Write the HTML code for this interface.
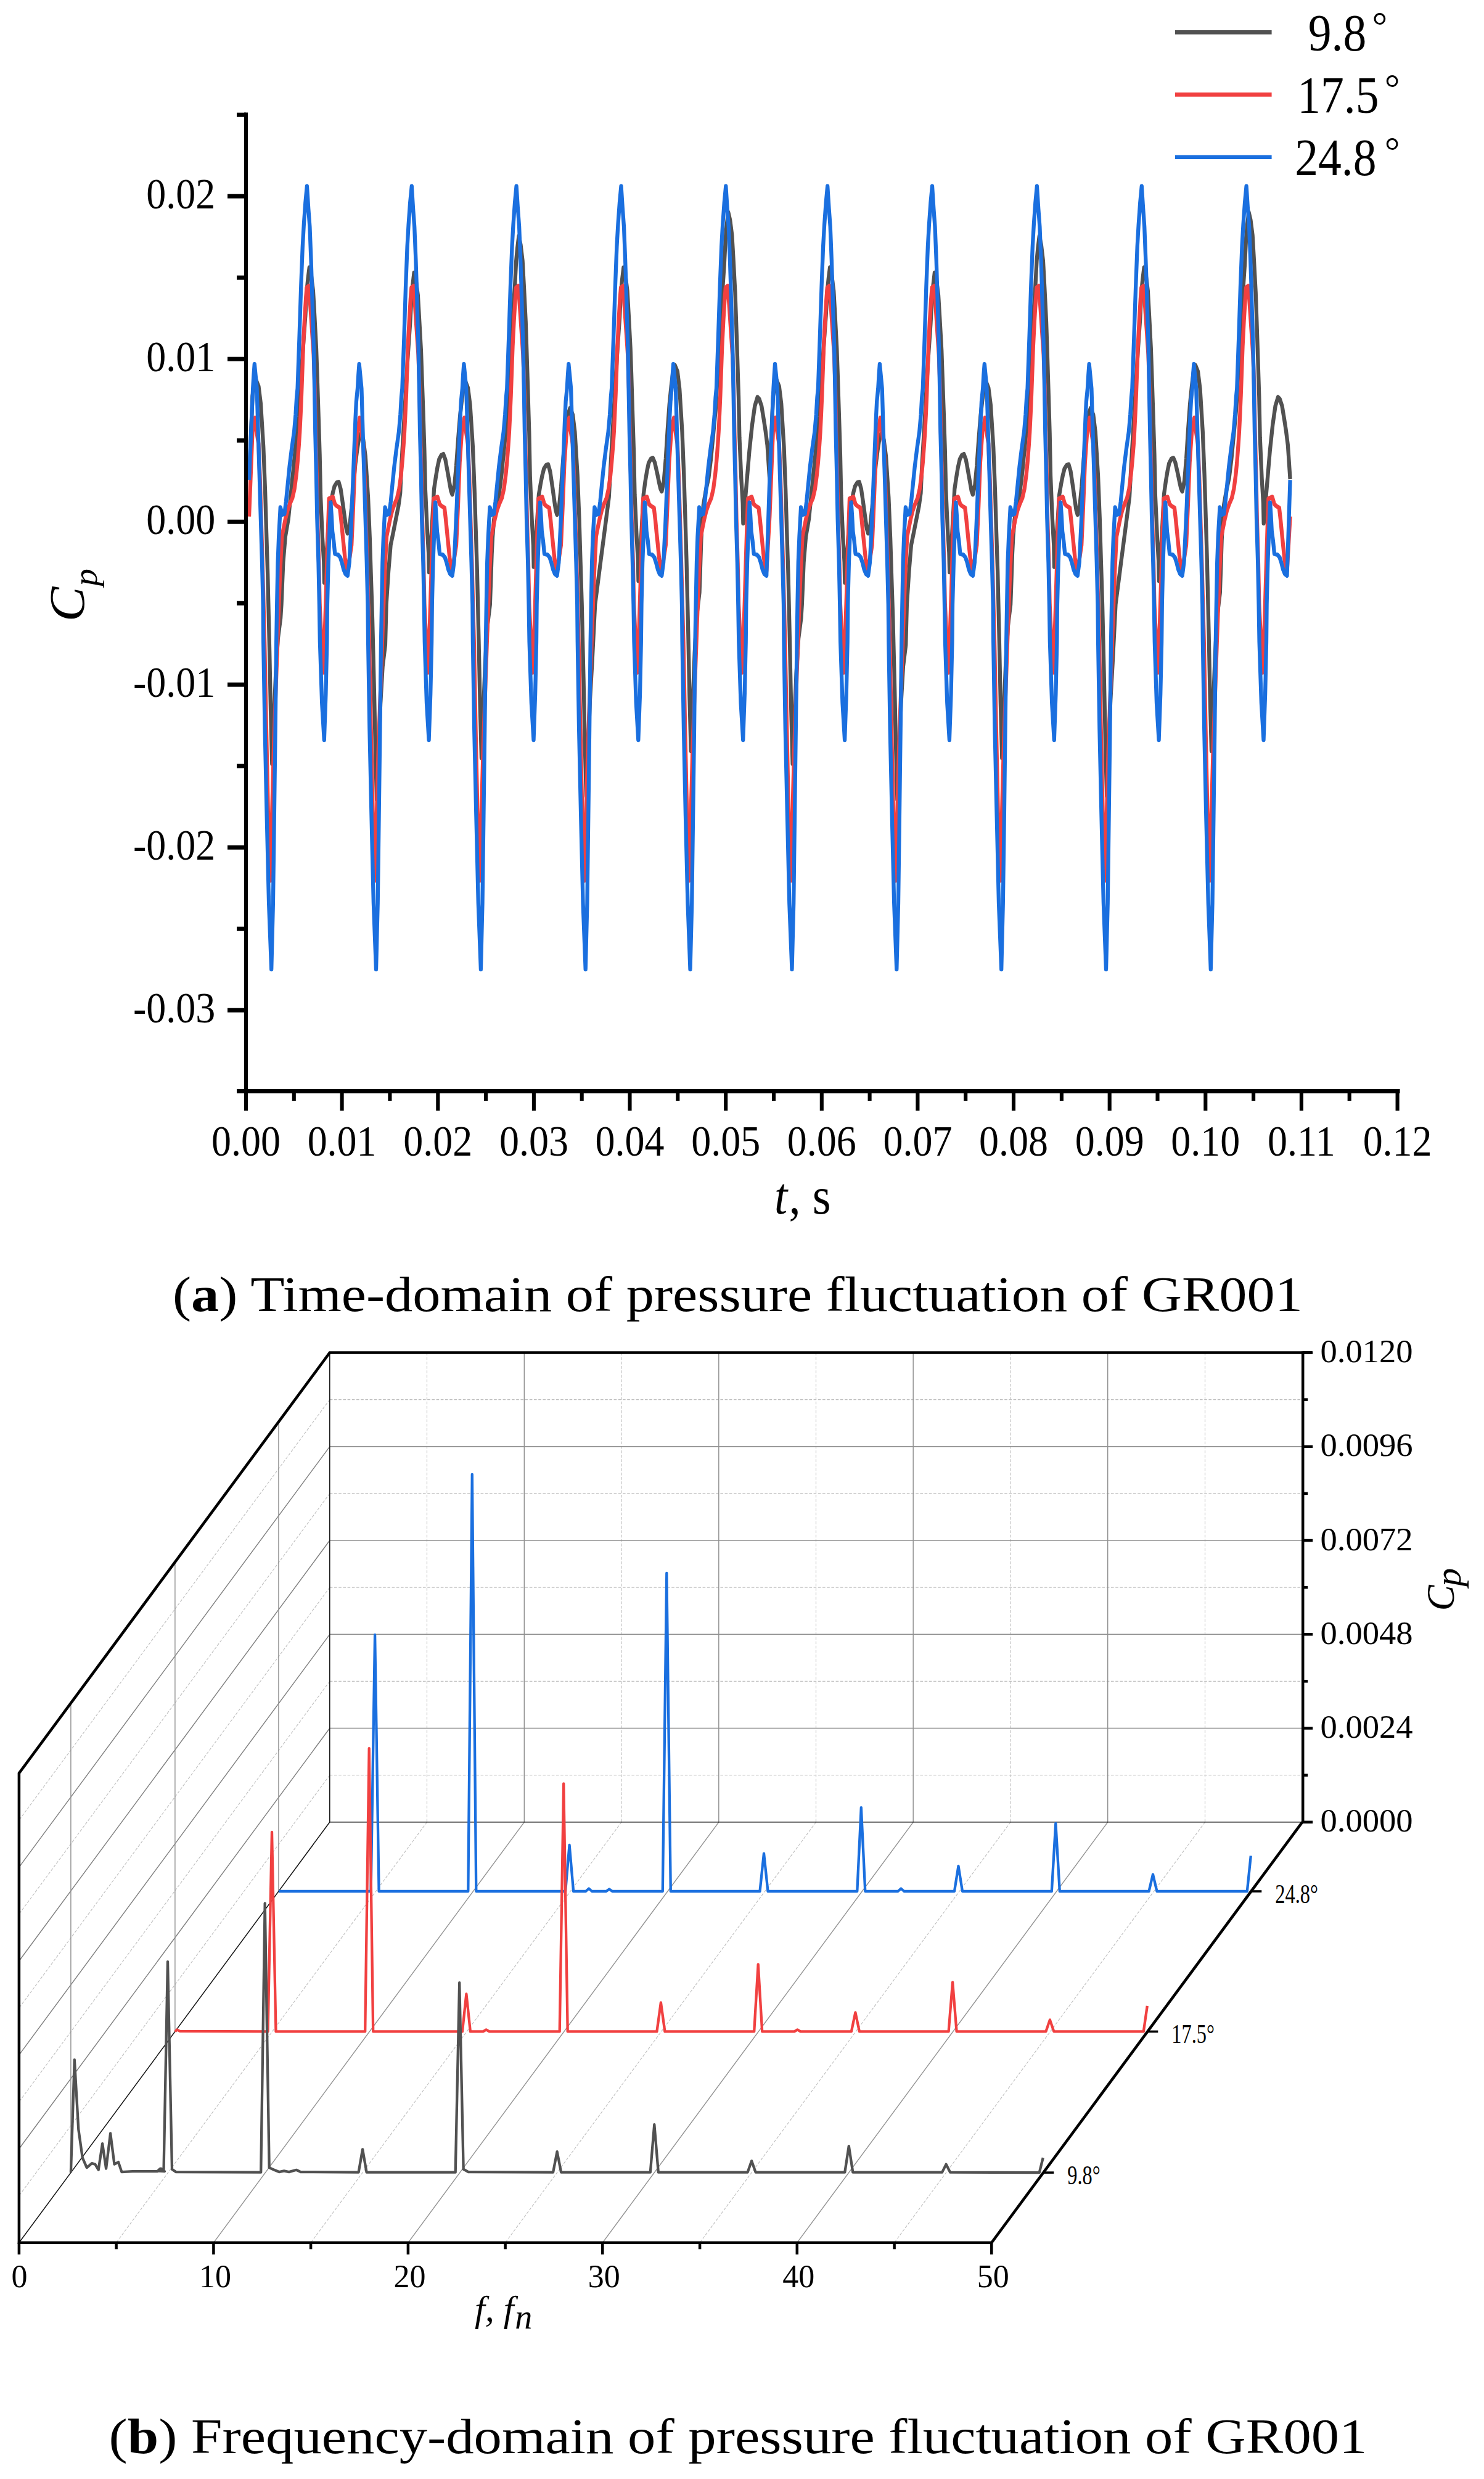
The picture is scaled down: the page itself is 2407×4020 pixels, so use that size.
<!DOCTYPE html>
<html lang="en"><head><meta charset="utf-8"><title>Pressure fluctuation of GR001</title>
<style>html,body{margin:0;padding:0;background:#fff}svg{display:block}</style></head>
<body>
<svg width="2407" height="4020" viewBox="0 0 2407 4020">
<rect width="2407" height="4020" fill="#fff"/>
<g id="chart-a">
<g transform="scale(1,1.1)" fill="none" stroke-width="6.3" stroke-linejoin="round" stroke-linecap="butt">
<polyline points="404.0,706.4 409.5,584.0 412.5,567.0 415.2,560.0 419.4,569.4 422.9,594.9 427.2,658.2 430.0,721.9 432.1,785.1 434.2,846.3 437.0,954.2 439.0,1044.2 441.3,1126.1 444.3,1057.9 447.3,993.2 450.8,941.4 455.1,911.2 456.5,890.9 459.3,829.1 462.8,790.9 467.7,765.2 473.4,713.6 479.0,662.7 484.6,614.4 487.9,564.4 491.3,515.2 495.3,465.6 497.5,428.9 499.5,410.8 501.8,394.4 504.8,406.4 507.9,428.9 510.2,465.6 513.0,514.3 514.4,550.6 516.5,609.2 518.6,670.2 520.0,730.9 522.9,791.9 525.3,828.4 526.0,858.9 528.9,827.4 531.8,788.1 534.2,754.4 537.0,739.3 539.8,726.5 542.6,716.7 546.2,711.5 549.3,710.5 552.5,720.7 554.6,733.7 556.7,747.0 559.6,766.7 561.7,779.8 563.8,786.4 567.3,773.8 570.3,748.3 573.3,714.2 576.3,684.4 579.3,663.1 582.3,646.1 585.0,639.1 589.2,648.1 592.7,672.4 597.0,732.7 599.8,793.4 601.9,853.7 604.0,912.0 606.8,1014.9 608.8,1100.7 611.1,1178.7 614.1,1106.4 617.1,1037.7 620.6,982.7 624.9,950.7 626.6,890.9 630.1,842.2 633.6,803.6 637.9,784.5 642.1,765.2 646.3,745.9 649.2,726.7 651.0,688.3 654.4,635.6 657.8,582.5 661.1,530.3 665.1,477.6 667.4,438.7 669.4,419.5 671.6,402.1 674.6,413.6 677.8,434.9 680.0,469.7 682.9,516.1 684.2,550.5 686.4,606.3 688.4,664.2 689.9,721.9 692.8,779.9 695.1,814.6 695.9,843.5 698.8,806.6 701.6,760.6 704.0,721.0 706.9,703.3 709.6,688.4 712.4,676.9 716.0,670.8 719.1,669.5 722.4,677.6 724.4,687.8 726.5,698.2 729.4,713.6 731.5,723.9 733.6,729.1 737.1,714.9 740.1,686.0 743.1,647.5 746.1,613.7 749.1,589.6 752.1,570.4 754.9,562.5 759.0,571.7 762.5,596.7 766.9,658.7 769.6,721.1 771.8,783.1 773.9,843.0 776.6,948.9 778.6,1037.0 781.0,1117.3 784.0,1045.6 787.0,977.6 790.5,923.2 794.8,891.4 796.2,855.6 797.6,817.1 799.0,791.7 801.2,766.0 805.0,746.3 809.6,727.6 813.2,701.9 816.0,676.5 818.8,650.8 820.9,631.6 824.3,579.5 827.6,526.9 831.0,475.2 835.0,423.0 837.2,384.5 839.2,365.4 841.5,348.2 844.5,360.9 847.6,384.4 849.9,422.9 852.7,474.1 854.1,512.1 856.2,573.7 858.3,637.6 859.7,701.4 862.6,765.4 865.0,803.8 865.7,835.7 868.6,803.6 871.5,763.6 873.9,729.3 876.7,713.9 879.5,700.9 882.3,690.9 885.9,685.6 889.0,684.5 892.2,694.5 894.3,707.3 896.4,720.3 899.3,739.5 901.4,752.4 903.5,758.8 907.0,745.5 910.0,718.2 913.0,681.8 916.0,650.0 919.0,627.3 922.0,609.1 924.7,601.6 928.9,611.2 932.4,636.9 936.7,700.9 939.5,765.2 941.6,829.1 943.7,890.9 946.5,1000.0 948.5,1090.9 950.9,1173.6 953.9,1101.0 956.9,1032.1 960.4,977.0 965.2,890.9 970.0,857.3 975.0,821.8 980.0,787.3 985.0,751.8 987.7,732.7 990.8,681.5 994.1,628.7 997.5,575.4 1000.9,523.0 1004.9,470.2 1007.1,431.1 1009.1,411.8 1011.4,394.4 1014.4,406.4 1017.5,428.7 1019.8,465.2 1022.6,513.7 1024.0,549.7 1026.0,608.1 1028.1,668.7 1029.5,729.1 1032.5,789.8 1034.8,826.1 1035.5,856.4 1038.5,817.9 1041.3,769.9 1043.8,728.7 1046.5,710.2 1049.3,694.6 1052.1,682.6 1055.8,676.3 1058.8,675.0 1062.0,681.7 1064.1,690.2 1066.2,698.8 1069.1,711.7 1071.2,720.2 1073.3,724.5 1076.8,708.7 1079.8,676.4 1082.8,633.2 1085.8,595.5 1088.8,568.6 1091.8,547.0 1094.5,538.2 1098.8,547.7 1102.2,573.3 1106.5,636.9 1109.3,700.8 1111.5,764.3 1113.5,825.8 1116.3,934.3 1118.3,1024.7 1120.7,1106.9 1123.7,1032.9 1126.7,962.7 1130.2,906.5 1134.5,873.7 1135.9,836.7 1137.3,796.9 1138.7,770.7 1140.9,744.2 1144.7,723.9 1149.3,704.6 1152.9,678.0 1155.7,651.8 1158.5,625.2 1160.6,605.4 1164.0,551.5 1167.3,497.2 1170.7,443.8 1174.7,390.0 1176.9,350.2 1178.9,330.5 1181.2,312.7 1184.2,324.7 1187.3,346.8 1189.6,383.1 1192.4,431.2 1193.8,467.0 1195.9,525.0 1198.0,585.2 1199.4,645.2 1202.3,705.5 1204.7,741.5 1205.4,771.6 1210.6,716.5 1215.4,665.2 1219.9,626.6 1224.3,598.5 1228.6,585.5 1231.4,588.2 1235.2,598.5 1238.9,618.9 1241.5,634.4 1244.6,656.4 1248.3,706.4 1253.8,584.0 1256.8,567.0 1259.5,560.0 1263.7,569.4 1267.2,594.9 1271.5,658.2 1274.2,721.9 1276.3,785.1 1278.5,846.3 1281.2,954.2 1283.2,1044.2 1285.6,1126.1 1288.6,1057.9 1291.6,993.2 1295.1,941.4 1299.4,911.2 1300.8,890.9 1303.6,829.1 1307.1,790.9 1312.0,765.2 1317.7,713.6 1323.3,662.7 1328.9,614.4 1332.2,564.4 1335.6,515.2 1339.6,465.6 1341.8,428.9 1343.8,410.8 1346.1,394.4 1349.1,406.4 1352.2,428.9 1354.5,465.6 1357.3,514.3 1358.7,550.6 1360.8,609.2 1362.9,670.2 1364.3,730.9 1367.2,791.9 1369.6,828.4 1370.3,858.9 1373.2,827.4 1376.1,788.1 1378.5,754.4 1381.3,739.3 1384.1,726.5 1386.9,716.7 1390.5,711.5 1393.6,710.5 1396.8,720.7 1398.9,733.7 1401.0,747.0 1403.9,766.7 1406.0,779.8 1408.1,786.4 1411.6,773.8 1414.6,748.3 1417.6,714.2 1420.6,684.4 1423.6,663.1 1426.6,646.1 1429.3,639.1 1433.5,648.1 1437.0,672.4 1441.3,732.7 1444.1,793.4 1446.2,853.7 1448.3,912.0 1451.1,1014.9 1453.1,1100.7 1455.4,1178.7 1458.4,1106.4 1461.4,1037.7 1464.9,982.7 1469.2,950.7 1470.9,890.9 1474.4,842.2 1477.9,803.6 1482.2,784.5 1486.4,765.2 1490.6,745.9 1493.5,726.7 1495.3,688.3 1498.8,635.6 1502.0,582.5 1505.4,530.3 1509.4,477.6 1511.7,438.7 1513.7,419.5 1515.9,402.1 1518.9,413.6 1522.0,434.9 1524.3,469.7 1527.2,516.1 1528.5,550.5 1530.7,606.3 1532.8,664.2 1534.2,721.9 1537.0,779.9 1539.4,814.6 1540.2,843.5 1543.0,806.6 1545.9,760.6 1548.3,721.0 1551.2,703.3 1553.9,688.4 1556.8,676.9 1560.3,670.8 1563.4,669.5 1566.7,677.6 1568.8,687.8 1570.8,698.2 1573.8,713.6 1575.8,723.9 1577.9,729.1 1581.4,714.9 1584.4,686.0 1587.4,647.5 1590.4,613.7 1593.4,589.6 1596.4,570.4 1599.2,562.5 1603.3,571.7 1606.8,596.7 1611.2,658.7 1613.9,721.1 1616.0,783.1 1618.2,843.0 1620.9,948.9 1622.9,1037.0 1625.3,1117.3 1628.3,1045.6 1631.3,977.6 1634.8,923.2 1639.1,891.4 1640.5,855.6 1641.9,817.1 1643.3,791.7 1645.5,766.0 1649.3,746.3 1653.9,727.6 1657.5,701.9 1660.3,676.5 1663.1,650.8 1665.2,631.6 1668.6,579.5 1671.9,526.9 1675.3,475.2 1679.3,423.0 1681.5,384.5 1683.5,365.4 1685.8,348.2 1688.8,360.9 1691.9,384.4 1694.2,422.9 1697.0,474.1 1698.4,512.1 1700.5,573.7 1702.6,637.6 1704.0,701.4 1706.9,765.4 1709.3,803.8 1710.0,835.7 1712.9,803.6 1715.8,763.6 1718.2,729.3 1721.0,713.9 1723.8,700.9 1726.6,690.9 1730.2,685.6 1733.3,684.5 1736.5,694.5 1738.6,707.3 1740.7,720.3 1743.6,739.5 1745.7,752.4 1747.8,758.8 1751.3,745.5 1754.3,718.2 1757.3,681.8 1760.3,650.0 1763.3,627.3 1766.3,609.1 1769.0,601.6 1773.2,611.2 1776.7,636.9 1781.0,700.9 1783.8,765.2 1785.9,829.1 1788.0,890.9 1790.8,1000.0 1792.8,1090.9 1795.2,1173.6 1798.2,1101.0 1801.2,1032.1 1804.7,977.0 1809.5,890.9 1814.3,857.3 1819.3,821.8 1824.3,787.3 1829.3,751.8 1832.0,732.7 1835.0,681.5 1838.4,628.7 1841.8,575.4 1845.2,523.0 1849.2,470.2 1851.3,431.1 1853.3,411.8 1855.7,394.4 1858.7,406.4 1861.8,428.7 1864.0,465.2 1866.8,513.7 1868.2,549.7 1870.3,608.1 1872.4,668.7 1873.8,729.1 1876.8,789.8 1879.1,826.1 1879.8,856.4 1882.8,817.9 1885.6,769.9 1888.0,728.7 1890.8,710.2 1893.6,694.6 1896.4,682.6 1900.0,676.3 1903.1,675.0 1906.3,681.7 1908.4,690.2 1910.5,698.8 1913.4,711.7 1915.5,720.2 1917.6,724.5 1921.1,708.7 1924.1,676.4 1927.1,633.2 1930.1,595.5 1933.1,568.6 1936.1,547.0 1938.8,538.2 1943.0,547.7 1946.5,573.3 1950.8,636.9 1953.6,700.8 1955.8,764.3 1957.8,825.8 1960.6,934.3 1962.6,1024.7 1965.0,1106.9 1968.0,1032.9 1971.0,962.7 1974.5,906.5 1978.8,873.7 1980.2,836.7 1981.6,796.9 1983.0,770.7 1985.2,744.2 1989.0,723.9 1993.6,704.6 1997.2,678.0 2000.0,651.8 2002.8,625.2 2004.9,605.4 2008.3,551.5 2011.6,497.2 2015.0,443.8 2019.0,390.0 2021.2,350.2 2023.2,330.5 2025.5,312.7 2028.5,324.7 2031.6,346.8 2033.9,383.1 2036.7,431.2 2038.1,467.0 2040.2,525.0 2042.3,585.2 2043.7,645.2 2046.6,705.5 2049.0,741.5 2049.7,771.6 2054.9,716.5 2059.7,665.2 2064.2,626.6 2068.6,598.5 2072.9,585.5 2075.7,588.2 2079.5,598.5 2083.2,618.9 2085.8,634.4 2088.9,656.4 2092.6,706.4" stroke="#515151"/>
<polyline points="404.0,761.4 409.5,636.4 413.8,615.7 416.2,636.4 419.4,654.5 421.5,700.9 423.6,765.2 425.7,829.1 427.5,890.9 429.1,946.4 431.9,1074.5 435.0,1202.7 438.7,1298.2 441.1,1202.7 444.1,1100.5 448.1,997.8 451.1,920.9 454.4,841.8 457.2,790.9 460.1,778.0 462.9,765.2 466.4,752.4 469.9,743.4 474.2,734.4 477.7,720.3 480.5,701.0 482.6,681.8 484.8,656.1 486.2,636.9 487.6,611.2 489.0,581.8 491.8,510.9 493.9,472.7 496.1,440.6 497.5,423.9 501.0,421.4 503.6,454.5 506.3,490.9 508.7,522.7 510.6,572.7 511.9,636.9 513.7,701.0 515.1,765.2 517.2,829.4 518.6,890.9 523.9,991.4 526.3,946.4 528.3,890.9 530.3,829.1 531.9,781.8 533.7,735.0 539.8,732.5 543.3,743.4 546.2,745.9 551.1,748.5 553.2,765.2 555.3,784.5 557.4,803.6 559.6,822.9 561.7,835.8 563.8,841.8 570.2,803.6 573.0,745.9 575.8,681.8 579.3,636.4 583.6,615.7 586.1,636.4 589.2,654.5 591.3,700.9 593.4,765.2 595.5,829.1 597.3,890.9 598.9,946.4 601.7,1074.5 604.8,1202.7 608.5,1298.2 610.9,1202.7 613.9,1100.5 617.9,997.8 620.9,920.9 624.2,841.8 627.0,790.9 629.9,778.0 632.8,765.2 636.2,752.4 639.8,743.4 644.0,734.4 647.5,720.3 650.4,701.0 652.4,681.8 654.6,656.1 656.0,636.9 657.4,611.2 658.9,581.8 661.6,510.9 663.8,472.7 665.9,440.6 667.4,423.9 670.9,421.4 673.4,454.5 676.1,490.9 678.5,522.7 680.4,572.7 681.8,636.9 683.5,701.0 684.9,765.2 687.0,829.4 688.4,890.9 693.8,991.4 696.1,946.4 698.1,890.9 700.1,829.1 701.8,781.8 703.5,735.0 709.6,732.5 713.1,743.4 716.0,745.9 720.9,748.5 723.0,765.2 725.1,784.5 727.2,803.6 729.4,822.9 731.5,835.8 733.6,841.8 740.0,803.6 742.9,745.9 745.6,681.8 749.1,636.4 753.4,615.7 755.9,636.4 759.0,654.5 761.1,700.9 763.2,765.2 765.4,829.1 767.1,890.9 768.8,946.4 771.5,1074.5 774.6,1202.7 778.4,1298.2 780.8,1202.7 783.8,1100.5 787.8,997.8 790.8,920.9 794.1,841.8 796.9,790.9 799.8,778.0 802.6,765.2 806.1,752.4 809.6,743.4 813.9,734.4 817.4,720.3 820.2,701.0 822.3,681.8 824.5,656.1 825.9,636.9 827.3,611.2 828.7,581.8 831.5,510.9 833.6,472.7 835.8,440.6 837.2,423.9 840.7,421.4 843.3,454.5 846.0,490.9 848.4,522.7 850.3,572.7 851.6,636.9 853.4,701.0 854.8,765.2 856.9,829.4 858.3,890.9 863.6,991.4 866.0,946.4 868.0,890.9 870.0,829.1 871.6,781.8 873.4,735.0 879.5,732.5 883.0,743.4 885.9,745.9 890.8,748.5 892.9,765.2 895.0,784.5 897.1,803.6 899.3,822.9 901.4,835.8 903.5,841.8 909.9,803.6 912.7,745.9 915.5,681.8 919.0,636.4 923.3,615.7 925.8,636.4 928.9,654.5 931.0,700.9 933.1,765.2 935.2,829.1 937.0,890.9 938.6,946.4 941.4,1074.5 944.5,1202.7 948.2,1298.2 950.6,1202.7 953.6,1100.5 957.6,997.8 960.6,920.9 964.0,841.8 966.8,790.9 969.6,778.0 972.5,765.2 976.0,752.4 979.5,743.4 983.8,734.4 987.2,720.3 990.1,701.0 992.1,681.8 994.4,656.1 995.8,636.9 997.1,611.2 998.6,581.8 1001.4,510.9 1003.5,472.7 1005.6,440.6 1007.1,423.9 1010.6,421.4 1013.1,454.5 1015.9,490.9 1018.2,522.7 1020.1,572.7 1021.5,636.9 1023.2,701.0 1024.6,765.2 1026.8,829.4 1028.1,890.9 1033.5,991.4 1035.8,946.4 1037.8,890.9 1039.8,829.1 1041.5,781.8 1043.2,735.0 1049.3,732.5 1052.8,743.4 1055.8,745.9 1060.6,748.5 1062.8,765.2 1064.8,784.5 1067.0,803.6 1069.1,822.9 1071.2,835.8 1073.3,841.8 1079.8,803.6 1082.5,745.9 1085.3,681.8 1088.8,636.4 1093.1,615.7 1095.6,636.4 1098.8,654.5 1100.8,700.9 1103.0,765.2 1105.0,829.1 1106.8,890.9 1108.5,946.4 1111.2,1074.5 1114.3,1202.7 1118.0,1298.2 1120.5,1202.7 1123.5,1100.5 1127.5,997.8 1130.5,920.9 1133.8,841.8 1136.6,790.9 1139.5,778.0 1142.3,765.2 1145.8,752.4 1149.3,743.4 1153.6,734.4 1157.1,720.3 1159.9,701.0 1162.0,681.8 1164.2,656.1 1165.6,636.9 1167.0,611.2 1168.4,581.8 1171.2,510.9 1173.3,472.7 1175.5,440.6 1176.9,423.9 1180.4,421.4 1183.0,454.5 1185.7,490.9 1188.1,522.7 1190.0,572.7 1191.3,636.9 1193.1,701.0 1194.5,765.2 1196.6,829.4 1198.0,890.9 1203.3,991.4 1205.7,946.4 1207.7,890.9 1209.7,829.1 1211.3,781.8 1213.1,735.0 1219.2,732.5 1222.7,743.4 1225.6,745.9 1230.5,748.5 1232.6,765.2 1234.7,784.5 1236.8,803.6 1239.0,822.9 1241.1,835.8 1243.2,841.8 1248.3,761.4 1253.8,636.4 1258.0,615.7 1260.5,636.4 1263.7,654.5 1265.8,700.9 1267.8,765.2 1270.0,829.1 1271.8,890.9 1273.3,946.4 1276.2,1074.5 1279.2,1202.7 1283.0,1298.2 1285.3,1202.7 1288.3,1100.5 1292.3,997.8 1295.3,920.9 1298.7,841.8 1301.5,790.9 1304.4,778.0 1307.2,765.2 1310.7,752.4 1314.2,743.4 1318.5,734.4 1322.0,720.3 1324.8,701.0 1326.9,681.8 1329.1,656.1 1330.5,636.9 1331.9,611.2 1333.3,581.8 1336.1,510.9 1338.2,472.7 1340.4,440.6 1341.8,423.9 1345.3,421.4 1347.9,454.5 1350.6,490.9 1353.0,522.7 1354.9,572.7 1356.2,636.9 1358.0,701.0 1359.4,765.2 1361.5,829.4 1362.9,890.9 1368.2,991.4 1370.6,946.4 1372.6,890.9 1374.6,829.1 1376.2,781.8 1378.0,735.0 1384.1,732.5 1387.6,743.4 1390.5,745.9 1395.4,748.5 1397.5,765.2 1399.6,784.5 1401.7,803.6 1403.9,822.9 1406.0,835.8 1408.1,841.8 1414.5,803.6 1417.3,745.9 1420.1,681.8 1423.6,636.4 1427.9,615.7 1430.4,636.4 1433.5,654.5 1435.6,700.9 1437.7,765.2 1439.8,829.1 1441.6,890.9 1443.2,946.4 1446.0,1074.5 1449.1,1202.7 1452.8,1298.2 1455.2,1202.7 1458.2,1100.5 1462.2,997.8 1465.2,920.9 1468.5,841.8 1471.3,790.9 1474.2,778.0 1477.0,765.2 1480.5,752.4 1484.0,743.4 1488.3,734.4 1491.8,720.3 1494.7,701.0 1496.8,681.8 1498.9,656.1 1500.3,636.9 1501.8,611.2 1503.2,581.8 1505.9,510.9 1508.0,472.7 1510.2,440.6 1511.7,423.9 1515.2,421.4 1517.8,454.5 1520.4,490.9 1522.8,522.7 1524.8,572.7 1526.0,636.9 1527.8,701.0 1529.2,765.2 1531.3,829.4 1532.8,890.9 1538.0,991.4 1540.4,946.4 1542.4,890.9 1544.4,829.1 1546.0,781.8 1547.8,735.0 1553.9,732.5 1557.4,743.4 1560.3,745.9 1565.2,748.5 1567.3,765.2 1569.4,784.5 1571.5,803.6 1573.8,822.9 1575.8,835.8 1577.9,841.8 1584.3,803.6 1587.2,745.9 1589.9,681.8 1593.4,636.4 1597.8,615.7 1600.2,636.4 1603.3,654.5 1605.4,700.9 1607.5,765.2 1609.7,829.1 1611.4,890.9 1613.0,946.4 1615.8,1074.5 1618.9,1202.7 1622.7,1298.2 1625.0,1202.7 1628.0,1100.5 1632.0,997.8 1635.0,920.9 1638.4,841.8 1641.2,790.9 1644.1,778.0 1646.9,765.2 1650.4,752.4 1653.9,743.4 1658.2,734.4 1661.7,720.3 1664.5,701.0 1666.6,681.8 1668.8,656.1 1670.2,636.9 1671.6,611.2 1673.0,581.8 1675.8,510.9 1677.9,472.7 1680.1,440.6 1681.5,423.9 1685.0,421.4 1687.6,454.5 1690.3,490.9 1692.7,522.7 1694.6,572.7 1695.9,636.9 1697.7,701.0 1699.1,765.2 1701.2,829.4 1702.6,890.9 1707.9,991.4 1710.3,946.4 1712.3,890.9 1714.3,829.1 1715.9,781.8 1717.7,735.0 1723.8,732.5 1727.3,743.4 1730.2,745.9 1735.1,748.5 1737.2,765.2 1739.3,784.5 1741.4,803.6 1743.6,822.9 1745.7,835.8 1747.8,841.8 1754.2,803.6 1757.0,745.9 1759.8,681.8 1763.3,636.4 1767.6,615.7 1770.1,636.4 1773.2,654.5 1775.3,700.9 1777.4,765.2 1779.5,829.1 1781.3,890.9 1782.9,946.4 1785.7,1074.5 1788.8,1202.7 1792.5,1298.2 1794.9,1202.7 1797.9,1100.5 1801.9,997.8 1804.9,920.9 1808.2,841.8 1811.0,790.9 1813.9,778.0 1816.8,765.2 1820.2,752.4 1823.8,743.4 1828.0,734.4 1831.5,720.3 1834.3,701.0 1836.4,681.8 1838.7,656.1 1840.0,636.9 1841.4,611.2 1842.8,581.8 1845.7,510.9 1847.8,472.7 1849.9,440.6 1851.3,423.9 1854.8,421.4 1857.4,454.5 1860.2,490.9 1862.5,522.7 1864.4,572.7 1865.8,636.9 1867.5,701.0 1868.9,765.2 1871.0,829.4 1872.4,890.9 1877.8,991.4 1880.1,946.4 1882.1,890.9 1884.1,829.1 1885.8,781.8 1887.5,735.0 1893.6,732.5 1897.1,743.4 1900.0,745.9 1904.9,748.5 1907.0,765.2 1909.1,784.5 1911.2,803.6 1913.4,822.9 1915.5,835.8 1917.6,841.8 1924.0,803.6 1926.8,745.9 1929.6,681.8 1933.1,636.4 1937.4,615.7 1939.9,636.4 1943.0,654.5 1945.1,700.9 1947.2,765.2 1949.3,829.1 1951.1,890.9 1952.8,946.4 1955.5,1074.5 1958.6,1202.7 1962.3,1298.2 1964.8,1202.7 1967.8,1100.5 1971.8,997.8 1974.8,920.9 1978.1,841.8 1980.9,790.9 1983.8,778.0 1986.6,765.2 1990.1,752.4 1993.6,743.4 1997.9,734.4 2001.4,720.3 2004.2,701.0 2006.3,681.8 2008.5,656.1 2009.9,636.9 2011.3,611.2 2012.7,581.8 2015.5,510.9 2017.6,472.7 2019.8,440.6 2021.2,423.9 2024.7,421.4 2027.3,454.5 2030.0,490.9 2032.4,522.7 2034.3,572.7 2035.6,636.9 2037.4,701.0 2038.8,765.2 2040.9,829.4 2042.3,890.9 2047.6,991.4 2050.0,946.4 2052.0,890.9 2054.0,829.1 2055.6,781.8 2057.4,735.0 2063.5,732.5 2067.0,743.4 2069.9,745.9 2074.8,748.5 2076.9,765.2 2079.0,784.5 2081.1,803.6 2083.3,822.9 2085.4,835.8 2087.5,841.8 2092.6,761.4" stroke="#F14040"/>
<polyline points="404.0,707.5 410.2,572.7 411.5,552.7 412.8,536.8 414.7,554.5 416.6,572.7 418.7,636.9 420.8,700.9 422.9,765.2 425.0,829.1 426.7,890.9 427.2,946.4 429.6,1074.8 432.7,1203.1 436.1,1331.5 440.2,1429.0 442.9,1331.5 444.8,1202.7 446.6,1074.5 448.2,946.4 449.2,890.9 450.6,829.1 452.2,790.9 454.8,747.9 458.1,758.6 461.3,757.7 463.9,739.5 466.7,713.9 469.5,688.2 473.0,662.5 477.0,636.9 479.5,611.2 481.2,585.5 482.6,572.7 485.5,498.4 488.3,421.4 490.8,363.6 492.8,331.5 495.3,299.5 497.9,274.5 500.3,308.5 502.4,334.1 504.5,382.8 505.9,421.4 507.3,466.3 508.8,511.2 510.1,572.7 511.3,636.9 513.0,701.0 514.4,765.2 516.5,829.4 517.9,890.9 518.9,946.4 522.2,1036.4 525.8,1090.7 528.4,1023.5 530.3,946.4 530.9,890.9 532.6,829.4 534.2,790.9 536.3,740.8 537.7,758.8 539.1,783.2 541.2,797.3 543.3,816.5 548.3,817.8 551.8,821.6 554.6,829.4 557.4,839.6 560.3,846.0 563.8,848.6 566.6,829.4 568.0,803.6 569.4,778.0 570.9,745.9 572.3,713.9 573.7,681.8 575.1,649.7 576.5,617.6 577.9,592.0 580.0,572.7 581.3,552.7 582.6,536.8 584.5,554.5 586.4,572.7 588.5,636.9 590.6,700.9 592.7,765.2 594.8,829.1 596.5,890.9 597.1,946.4 599.4,1074.8 602.5,1203.1 605.9,1331.5 610.0,1429.0 612.7,1331.5 614.6,1202.7 616.4,1074.5 618.0,946.4 619.1,890.9 620.4,829.1 622.0,790.9 624.6,747.9 627.9,758.6 631.1,757.7 633.8,739.5 636.5,713.9 639.4,688.2 642.9,662.5 646.9,636.9 649.4,611.2 651.0,585.5 652.4,572.7 655.4,498.4 658.1,421.4 660.6,363.6 662.6,331.5 665.1,299.5 667.8,274.5 670.1,308.5 672.2,334.1 674.4,382.8 675.8,421.4 677.1,466.3 678.6,511.2 679.9,572.7 681.1,636.9 682.9,701.0 684.2,765.2 686.4,829.4 687.8,890.9 688.8,946.4 692.0,1036.4 695.6,1090.7 698.2,1023.5 700.1,946.4 700.8,890.9 702.4,829.4 704.0,790.9 706.1,740.8 707.5,758.8 708.9,783.2 711.0,797.3 713.1,816.5 718.1,817.8 721.6,821.6 724.4,829.4 727.2,839.6 730.1,846.0 733.6,848.6 736.4,829.4 737.9,803.6 739.2,778.0 740.8,745.9 742.1,713.9 743.5,681.8 744.9,649.7 746.4,617.6 747.8,592.0 749.9,572.7 751.1,552.7 752.4,536.8 754.4,554.5 756.2,572.7 758.4,636.9 760.4,700.9 762.5,765.2 764.6,829.1 766.4,890.9 766.9,946.4 769.2,1074.8 772.4,1203.1 775.8,1331.5 779.9,1429.0 782.5,1331.5 784.4,1202.7 786.2,1074.5 787.9,946.4 788.9,890.9 790.2,829.1 791.9,790.9 794.5,747.9 797.8,758.6 801.0,757.7 803.6,739.5 806.4,713.9 809.2,688.2 812.7,662.5 816.7,636.9 819.2,611.2 820.9,585.5 822.3,572.7 825.2,498.4 828.0,421.4 830.5,363.6 832.5,331.5 835.0,299.5 837.6,274.5 840.0,308.5 842.1,334.1 844.2,382.8 845.6,421.4 847.0,466.3 848.5,511.2 849.8,572.7 851.0,636.9 852.7,701.0 854.1,765.2 856.2,829.4 857.6,890.9 858.6,946.4 861.9,1036.4 865.5,1090.7 868.1,1023.5 870.0,946.4 870.6,890.9 872.3,829.4 873.9,790.9 876.0,740.8 877.4,758.8 878.8,783.2 880.9,797.3 883.0,816.5 888.0,817.8 891.5,821.6 894.3,829.4 897.1,839.6 900.0,846.0 903.5,848.6 906.3,829.4 907.7,803.6 909.1,778.0 910.6,745.9 912.0,713.9 913.4,681.8 914.8,649.7 916.2,617.6 917.6,592.0 919.7,572.7 921.0,552.7 922.3,536.8 924.2,554.5 926.1,572.7 928.2,636.9 930.3,700.9 932.4,765.2 934.5,829.1 936.2,890.9 936.8,946.4 939.1,1074.8 942.2,1203.1 945.6,1331.5 949.7,1429.0 952.4,1331.5 954.3,1202.7 956.1,1074.5 957.7,946.4 958.8,890.9 960.1,829.1 961.7,790.9 964.4,747.9 967.6,758.6 970.9,757.7 973.5,739.5 976.2,713.9 979.1,688.2 982.6,662.5 986.6,636.9 989.1,611.2 990.8,585.5 992.1,572.7 995.1,498.4 997.9,421.4 1000.4,363.6 1002.4,331.5 1004.9,299.5 1007.5,274.5 1009.9,308.5 1012.0,334.1 1014.1,382.8 1015.5,421.4 1016.9,466.3 1018.4,511.2 1019.6,572.7 1020.9,636.9 1022.6,701.0 1024.0,765.2 1026.0,829.4 1027.5,890.9 1028.5,946.4 1031.8,1036.4 1035.3,1090.7 1038.0,1023.5 1039.8,946.4 1040.5,890.9 1042.1,829.4 1043.8,790.9 1045.8,740.8 1047.2,758.8 1048.6,783.2 1050.8,797.3 1052.8,816.5 1057.8,817.8 1061.3,821.6 1064.1,829.4 1067.0,839.6 1069.8,846.0 1073.3,848.6 1076.1,829.4 1077.5,803.6 1079.0,778.0 1080.5,745.9 1081.8,713.9 1083.2,681.8 1084.6,649.7 1086.0,617.6 1087.5,592.0 1089.5,572.7 1090.8,552.7 1092.1,536.8 1094.0,554.5 1096.0,572.7 1098.0,636.9 1100.1,700.9 1102.2,765.2 1104.3,829.1 1106.0,890.9 1106.6,946.4 1109.0,1074.8 1112.0,1203.1 1115.5,1331.5 1119.5,1429.0 1122.2,1331.5 1124.1,1202.7 1126.0,1074.5 1127.5,946.4 1128.6,890.9 1130.0,829.1 1131.5,790.9 1134.2,747.9 1137.5,758.6 1140.7,757.7 1143.3,739.5 1146.1,713.9 1148.9,688.2 1152.4,662.5 1156.4,636.9 1158.9,611.2 1160.6,585.5 1162.0,572.7 1164.9,498.4 1167.7,421.4 1170.2,363.6 1172.2,331.5 1174.7,299.5 1177.3,274.5 1179.7,308.5 1181.8,334.1 1183.9,382.8 1185.3,421.4 1186.7,466.3 1188.2,511.2 1189.5,572.7 1190.7,636.9 1192.4,701.0 1193.8,765.2 1195.9,829.4 1197.3,890.9 1198.3,946.4 1201.6,1036.4 1205.2,1090.7 1207.8,1023.5 1209.7,946.4 1210.3,890.9 1212.0,829.4 1213.6,790.9 1215.7,740.8 1217.1,758.8 1218.5,783.2 1220.6,797.3 1222.7,816.5 1227.7,817.8 1231.2,821.6 1234.0,829.4 1236.8,839.6 1239.7,846.0 1243.2,848.6 1248.3,707.5 1254.5,572.7 1255.8,552.7 1257.0,536.8 1259.0,554.5 1260.8,572.7 1263.0,636.9 1265.0,700.9 1267.2,765.2 1269.2,829.1 1271.0,890.9 1271.5,946.4 1273.8,1074.8 1277.0,1203.1 1280.3,1331.5 1284.5,1429.0 1287.2,1331.5 1289.0,1202.7 1290.8,1074.5 1292.5,946.4 1293.5,890.9 1294.8,829.1 1296.5,790.9 1299.1,747.9 1302.4,758.6 1305.6,757.7 1308.2,739.5 1311.0,713.9 1313.8,688.2 1317.3,662.5 1321.3,636.9 1323.8,611.2 1325.5,585.5 1326.9,572.7 1329.8,498.4 1332.6,421.4 1335.1,363.6 1337.1,331.5 1339.6,299.5 1342.2,274.5 1344.6,308.5 1346.7,334.1 1348.8,382.8 1350.2,421.4 1351.6,466.3 1353.1,511.2 1354.4,572.7 1355.6,636.9 1357.3,701.0 1358.7,765.2 1360.8,829.4 1362.2,890.9 1363.2,946.4 1366.5,1036.4 1370.1,1090.7 1372.7,1023.5 1374.6,946.4 1375.2,890.9 1376.9,829.4 1378.5,790.9 1380.6,740.8 1382.0,758.8 1383.4,783.2 1385.5,797.3 1387.6,816.5 1392.6,817.8 1396.1,821.6 1398.9,829.4 1401.7,839.6 1404.6,846.0 1408.1,848.6 1410.9,829.4 1412.3,803.6 1413.7,778.0 1415.2,745.9 1416.6,713.9 1418.0,681.8 1419.4,649.7 1420.8,617.6 1422.2,592.0 1424.3,572.7 1425.6,552.7 1426.9,536.8 1428.8,554.5 1430.7,572.7 1432.8,636.9 1434.9,700.9 1437.0,765.2 1439.1,829.1 1440.8,890.9 1441.4,946.4 1443.7,1074.8 1446.8,1203.1 1450.2,1331.5 1454.3,1429.0 1457.0,1331.5 1458.9,1202.7 1460.7,1074.5 1462.3,946.4 1463.4,890.9 1464.7,829.1 1466.3,790.9 1468.9,747.9 1472.2,758.6 1475.4,757.7 1478.0,739.5 1480.8,713.9 1483.7,688.2 1487.2,662.5 1491.2,636.9 1493.7,611.2 1495.3,585.5 1496.8,572.7 1499.7,498.4 1502.4,421.4 1504.9,363.6 1506.9,331.5 1509.4,299.5 1512.0,274.5 1514.4,308.5 1516.5,334.1 1518.7,382.8 1520.0,421.4 1521.4,466.3 1522.9,511.2 1524.2,572.7 1525.4,636.9 1527.2,701.0 1528.5,765.2 1530.7,829.4 1532.0,890.9 1533.0,946.4 1536.3,1036.4 1539.9,1090.7 1542.5,1023.5 1544.4,946.4 1545.0,890.9 1546.8,829.4 1548.3,790.9 1550.4,740.8 1551.8,758.8 1553.2,783.2 1555.3,797.3 1557.4,816.5 1562.4,817.8 1565.9,821.6 1568.8,829.4 1571.5,839.6 1574.4,846.0 1577.9,848.6 1580.8,829.4 1582.2,803.6 1583.5,778.0 1585.0,745.9 1586.4,713.9 1587.8,681.8 1589.2,649.7 1590.7,617.6 1592.0,592.0 1594.2,572.7 1595.4,552.7 1596.8,536.8 1598.7,554.5 1600.5,572.7 1602.7,636.9 1604.8,700.9 1606.8,765.2 1608.9,829.1 1610.7,890.9 1611.2,946.4 1613.5,1074.8 1616.7,1203.1 1620.0,1331.5 1624.2,1429.0 1626.8,1331.5 1628.8,1202.7 1630.5,1074.5 1632.2,946.4 1633.2,890.9 1634.5,829.1 1636.2,790.9 1638.8,747.9 1642.1,758.6 1645.3,757.7 1647.9,739.5 1650.7,713.9 1653.5,688.2 1657.0,662.5 1661.0,636.9 1663.5,611.2 1665.2,585.5 1666.6,572.7 1669.5,498.4 1672.3,421.4 1674.8,363.6 1676.8,331.5 1679.3,299.5 1681.9,274.5 1684.3,308.5 1686.4,334.1 1688.5,382.8 1689.9,421.4 1691.3,466.3 1692.8,511.2 1694.1,572.7 1695.3,636.9 1697.0,701.0 1698.4,765.2 1700.5,829.4 1701.9,890.9 1702.9,946.4 1706.2,1036.4 1709.8,1090.7 1712.4,1023.5 1714.3,946.4 1714.9,890.9 1716.6,829.4 1718.2,790.9 1720.3,740.8 1721.7,758.8 1723.1,783.2 1725.2,797.3 1727.3,816.5 1732.3,817.8 1735.8,821.6 1738.6,829.4 1741.4,839.6 1744.3,846.0 1747.8,848.6 1750.6,829.4 1752.0,803.6 1753.4,778.0 1754.9,745.9 1756.3,713.9 1757.7,681.8 1759.1,649.7 1760.5,617.6 1761.9,592.0 1764.0,572.7 1765.3,552.7 1766.6,536.8 1768.5,554.5 1770.4,572.7 1772.5,636.9 1774.6,700.9 1776.7,765.2 1778.8,829.1 1780.5,890.9 1781.1,946.4 1783.4,1074.8 1786.5,1203.1 1789.9,1331.5 1794.0,1429.0 1796.7,1331.5 1798.6,1202.7 1800.4,1074.5 1802.0,946.4 1803.1,890.9 1804.4,829.1 1806.0,790.9 1808.7,747.9 1811.9,758.6 1815.2,757.7 1817.8,739.5 1820.5,713.9 1823.3,688.2 1826.8,662.5 1830.8,636.9 1833.3,611.2 1835.0,585.5 1836.4,572.7 1839.3,498.4 1842.2,421.4 1844.7,363.6 1846.7,331.5 1849.2,299.5 1851.8,274.5 1854.2,308.5 1856.2,334.1 1858.3,382.8 1859.8,421.4 1861.2,466.3 1862.7,511.2 1863.9,572.7 1865.2,636.9 1866.8,701.0 1868.2,765.2 1870.3,829.4 1871.8,890.9 1872.8,946.4 1876.0,1036.4 1879.6,1090.7 1882.2,1023.5 1884.1,946.4 1884.8,890.9 1886.4,829.4 1888.0,790.9 1890.1,740.8 1891.5,758.8 1892.9,783.2 1895.0,797.3 1897.1,816.5 1902.1,817.8 1905.6,821.6 1908.4,829.4 1911.2,839.6 1914.1,846.0 1917.6,848.6 1920.4,829.4 1921.8,803.6 1923.2,778.0 1924.8,745.9 1926.1,713.9 1927.5,681.8 1928.9,649.7 1930.3,617.6 1931.8,592.0 1933.8,572.7 1935.1,552.7 1936.4,536.8 1938.3,554.5 1940.2,572.7 1942.3,636.9 1944.4,700.9 1946.5,765.2 1948.6,829.1 1950.3,890.9 1950.9,946.4 1953.2,1074.8 1956.3,1203.1 1959.8,1331.5 1963.8,1429.0 1966.5,1331.5 1968.4,1202.7 1970.2,1074.5 1971.8,946.4 1972.9,890.9 1974.2,829.1 1975.8,790.9 1978.5,747.9 1981.8,758.6 1985.0,757.7 1987.6,739.5 1990.4,713.9 1993.2,688.2 1996.7,662.5 2000.7,636.9 2003.2,611.2 2004.9,585.5 2006.3,572.7 2009.2,498.4 2012.0,421.4 2014.5,363.6 2016.5,331.5 2019.0,299.5 2021.6,274.5 2024.0,308.5 2026.1,334.1 2028.2,382.8 2029.6,421.4 2031.0,466.3 2032.5,511.2 2033.8,572.7 2035.0,636.9 2036.7,701.0 2038.1,765.2 2040.2,829.4 2041.6,890.9 2042.6,946.4 2045.9,1036.4 2049.5,1090.7 2052.1,1023.5 2054.0,946.4 2054.6,890.9 2056.3,829.4 2057.9,790.9 2060.0,740.8 2061.4,758.8 2062.8,783.2 2064.9,797.3 2067.0,816.5 2072.0,817.8 2075.5,821.6 2078.3,829.4 2081.1,839.6 2084.0,846.0 2087.5,848.6 2092.6,707.5" stroke="#1A6FDF"/>
</g>
<g stroke="#000" fill="none" stroke-linecap="butt">
<line x1="399.0" y1="182.5" x2="399.0" y2="1769.5" stroke-width="6.1"/>
<line x1="384" y1="1769.5" x2="2270.6" y2="1769.5" stroke-width="7"/>
<line x1="369" y1="1638.2" x2="399.0" y2="1638.2" stroke-width="7"/>
<line x1="384" y1="1506.2" x2="399.0" y2="1506.2" stroke-width="7"/>
<line x1="369" y1="1374.2" x2="399.0" y2="1374.2" stroke-width="7"/>
<line x1="384" y1="1242.2" x2="399.0" y2="1242.2" stroke-width="7"/>
<line x1="369" y1="1110.2" x2="399.0" y2="1110.2" stroke-width="7"/>
<line x1="384" y1="978.2" x2="399.0" y2="978.2" stroke-width="7"/>
<line x1="369" y1="846.2" x2="399.0" y2="846.2" stroke-width="7"/>
<line x1="384" y1="714.2" x2="399.0" y2="714.2" stroke-width="7"/>
<line x1="369" y1="582.2" x2="399.0" y2="582.2" stroke-width="7"/>
<line x1="384" y1="450.2" x2="399.0" y2="450.2" stroke-width="7"/>
<line x1="369" y1="318.2" x2="399.0" y2="318.2" stroke-width="7"/>
<line x1="384" y1="186.2" x2="399.0" y2="186.2" stroke-width="7"/>
<line x1="399.0" y1="1769.5" x2="399.0" y2="1801" stroke-width="6.1"/>
<line x1="476.8" y1="1769.5" x2="476.8" y2="1785" stroke-width="6.1"/>
<line x1="554.6" y1="1769.5" x2="554.6" y2="1801" stroke-width="6.1"/>
<line x1="632.4" y1="1769.5" x2="632.4" y2="1785" stroke-width="6.1"/>
<line x1="710.3" y1="1769.5" x2="710.3" y2="1801" stroke-width="6.1"/>
<line x1="788.1" y1="1769.5" x2="788.1" y2="1785" stroke-width="6.1"/>
<line x1="865.9" y1="1769.5" x2="865.9" y2="1801" stroke-width="6.1"/>
<line x1="943.7" y1="1769.5" x2="943.7" y2="1785" stroke-width="6.1"/>
<line x1="1021.5" y1="1769.5" x2="1021.5" y2="1801" stroke-width="6.1"/>
<line x1="1099.3" y1="1769.5" x2="1099.3" y2="1785" stroke-width="6.1"/>
<line x1="1177.2" y1="1769.5" x2="1177.2" y2="1801" stroke-width="6.1"/>
<line x1="1255.0" y1="1769.5" x2="1255.0" y2="1785" stroke-width="6.1"/>
<line x1="1332.8" y1="1769.5" x2="1332.8" y2="1801" stroke-width="6.1"/>
<line x1="1410.6" y1="1769.5" x2="1410.6" y2="1785" stroke-width="6.1"/>
<line x1="1488.4" y1="1769.5" x2="1488.4" y2="1801" stroke-width="6.1"/>
<line x1="1566.2" y1="1769.5" x2="1566.2" y2="1785" stroke-width="6.1"/>
<line x1="1644.0" y1="1769.5" x2="1644.0" y2="1801" stroke-width="6.1"/>
<line x1="1721.9" y1="1769.5" x2="1721.9" y2="1785" stroke-width="6.1"/>
<line x1="1799.7" y1="1769.5" x2="1799.7" y2="1801" stroke-width="6.1"/>
<line x1="1877.5" y1="1769.5" x2="1877.5" y2="1785" stroke-width="6.1"/>
<line x1="1955.3" y1="1769.5" x2="1955.3" y2="1801" stroke-width="6.1"/>
<line x1="2033.1" y1="1769.5" x2="2033.1" y2="1785" stroke-width="6.1"/>
<line x1="2110.9" y1="1769.5" x2="2110.9" y2="1801" stroke-width="6.1"/>
<line x1="2188.7" y1="1769.5" x2="2188.7" y2="1785" stroke-width="6.1"/>
<line x1="2266.6" y1="1769.5" x2="2266.6" y2="1801" stroke-width="6.1"/>
</g>
<text transform="translate(349.2,337.5) scale(0.905,1)" font-family='"Liberation Serif", serif' font-size="70.7" text-anchor="end" >0.02</text>
<text transform="translate(349.2,601.5) scale(0.905,1)" font-family='"Liberation Serif", serif' font-size="70.7" text-anchor="end" >0.01</text>
<text transform="translate(349.2,865.5) scale(0.905,1)" font-family='"Liberation Serif", serif' font-size="70.7" text-anchor="end" >0.00</text>
<text transform="translate(349.2,1129.5) scale(0.905,1)" font-family='"Liberation Serif", serif' font-size="70.7" text-anchor="end" >-0.01</text>
<text transform="translate(349.2,1393.5) scale(0.905,1)" font-family='"Liberation Serif", serif' font-size="70.7" text-anchor="end" >-0.02</text>
<text transform="translate(349.2,1657.5) scale(0.905,1)" font-family='"Liberation Serif", serif' font-size="70.7" text-anchor="end" >-0.03</text>
<text transform="translate(399.0,1873.5) scale(0.905,1)" font-family='"Liberation Serif", serif' font-size="70.7" text-anchor="middle" >0.00</text>
<text transform="translate(554.6,1873.5) scale(0.905,1)" font-family='"Liberation Serif", serif' font-size="70.7" text-anchor="middle" >0.01</text>
<text transform="translate(710.3,1873.5) scale(0.905,1)" font-family='"Liberation Serif", serif' font-size="70.7" text-anchor="middle" >0.02</text>
<text transform="translate(865.9,1873.5) scale(0.905,1)" font-family='"Liberation Serif", serif' font-size="70.7" text-anchor="middle" >0.03</text>
<text transform="translate(1021.5,1873.5) scale(0.905,1)" font-family='"Liberation Serif", serif' font-size="70.7" text-anchor="middle" >0.04</text>
<text transform="translate(1177.2,1873.5) scale(0.905,1)" font-family='"Liberation Serif", serif' font-size="70.7" text-anchor="middle" >0.05</text>
<text transform="translate(1332.8,1873.5) scale(0.905,1)" font-family='"Liberation Serif", serif' font-size="70.7" text-anchor="middle" >0.06</text>
<text transform="translate(1488.4,1873.5) scale(0.905,1)" font-family='"Liberation Serif", serif' font-size="70.7" text-anchor="middle" >0.07</text>
<text transform="translate(1644.0,1873.5) scale(0.905,1)" font-family='"Liberation Serif", serif' font-size="70.7" text-anchor="middle" >0.08</text>
<text transform="translate(1799.7,1873.5) scale(0.905,1)" font-family='"Liberation Serif", serif' font-size="70.7" text-anchor="middle" >0.09</text>
<text transform="translate(1955.3,1873.5) scale(0.905,1)" font-family='"Liberation Serif", serif' font-size="70.7" text-anchor="middle" >0.10</text>
<text transform="translate(2110.9,1873.5) scale(0.905,1)" font-family='"Liberation Serif", serif' font-size="70.7" text-anchor="middle" >0.11</text>
<text transform="translate(2266.6,1873.5) scale(0.905,1)" font-family='"Liberation Serif", serif' font-size="70.7" text-anchor="middle" >0.12</text>
<text transform="translate(135.5,1008) rotate(-90) scale(1.05,1)" font-family='"Liberation Serif", serif' font-style="italic" font-size="80.5">C<tspan font-size="54" dx="1" dy="21.8">p</tspan></text>
<text transform="translate(1256,1967.6) scale(0.9,1)" font-family='"Liberation Serif", serif' font-size="85"><tspan font-style="italic">t</tspan><tspan dx="2.5">, s</tspan></text>
<line x1="1906" y1="52.4" x2="2062.6" y2="52.4" stroke="#515151" stroke-width="6.6"/>
<text transform="translate(2121.8,81.8) scale(0.9,1)" font-family='"Liberation Serif", serif' font-size="84" text-anchor="start" >9.8</text>
<text transform="translate(2225.6,62.3) scale(1.0,1)" font-family='"Liberation Serif", serif' font-size="62" text-anchor="start" >°</text>
<line x1="1906" y1="153.4" x2="2062.6" y2="153.4" stroke="#F14040" stroke-width="6.6"/>
<text transform="translate(2104.2,182.8) scale(0.9,1)" font-family='"Liberation Serif", serif' font-size="84" text-anchor="start" >17.5</text>
<text transform="translate(2245.7,163.3) scale(1.0,1)" font-family='"Liberation Serif", serif' font-size="62" text-anchor="start" >°</text>
<line x1="1906" y1="254.8" x2="2062.6" y2="254.8" stroke="#1A6FDF" stroke-width="6.6"/>
<text transform="translate(2100.2,284.3) scale(0.9,1)" font-family='"Liberation Serif", serif' font-size="84" text-anchor="start" >24.8</text>
<text transform="translate(2245.7,264.8) scale(1.0,1)" font-family='"Liberation Serif", serif' font-size="62" text-anchor="start" >°</text>
</g>
<text x="280" y="2126" font-family='"Liberation Serif", serif' font-size="80" textLength="1833" lengthAdjust="spacingAndGlyphs">(<tspan font-weight="bold">a</tspan>) Time-domain of pressure fluctuation of GR001</text>
<text x="176.5" y="3978" font-family='"Liberation Serif", serif' font-size="80" textLength="2041" lengthAdjust="spacingAndGlyphs">(<tspan font-weight="bold">b</tspan>) Frequency-domain of pressure fluctuation of GR001</text>
<g id="chart-b" fill="none">
<g stroke="#bebebe" stroke-width="1.1" stroke-dasharray="4.6 2.6">
<line x1="692.5" y1="2193.5" x2="692.5" y2="2954.8"/>
<line x1="692.5" y1="2954.8" x2="188.6" y2="3636.8"/>
<line x1="1008.0" y1="2193.5" x2="1008.0" y2="2954.8"/>
<line x1="1008.0" y1="2954.8" x2="504.1" y2="3636.8"/>
<line x1="1323.5" y1="2193.5" x2="1323.5" y2="2954.8"/>
<line x1="1323.5" y1="2954.8" x2="819.6" y2="3636.8"/>
<line x1="1639.0" y1="2193.5" x2="1639.0" y2="2954.8"/>
<line x1="1639.0" y1="2954.8" x2="1135.1" y2="3636.8"/>
<line x1="1954.5" y1="2193.5" x2="1954.5" y2="2954.8"/>
<line x1="1954.5" y1="2954.8" x2="1450.6" y2="3636.8"/>
<line x1="534.8" y1="2269.6" x2="2112.2" y2="2269.6"/>
<line x1="534.8" y1="2269.6" x2="30.9" y2="2951.6"/>
<line x1="534.8" y1="2421.9" x2="2112.2" y2="2421.9"/>
<line x1="534.8" y1="2421.9" x2="30.9" y2="3103.9"/>
<line x1="534.8" y1="2574.2" x2="2112.2" y2="2574.2"/>
<line x1="534.8" y1="2574.2" x2="30.9" y2="3256.2"/>
<line x1="534.8" y1="2726.4" x2="2112.2" y2="2726.4"/>
<line x1="534.8" y1="2726.4" x2="30.9" y2="3408.4"/>
<line x1="534.8" y1="2878.7" x2="2112.2" y2="2878.7"/>
<line x1="534.8" y1="2878.7" x2="30.9" y2="3560.7"/>
</g>
<g stroke="#909090" stroke-width="1.4">
<line x1="850.3" y1="2193.5" x2="850.3" y2="2954.8"/>
<line x1="850.3" y1="2954.8" x2="346.4" y2="3636.8"/>
<line x1="1165.8" y1="2193.5" x2="1165.8" y2="2954.8"/>
<line x1="1165.8" y1="2954.8" x2="661.9" y2="3636.8"/>
<line x1="1481.2" y1="2193.5" x2="1481.2" y2="2954.8"/>
<line x1="1481.2" y1="2954.8" x2="977.3" y2="3636.8"/>
<line x1="1796.7" y1="2193.5" x2="1796.7" y2="2954.8"/>
<line x1="1796.7" y1="2954.8" x2="1292.8" y2="3636.8"/>
<line x1="534.8" y1="2345.8" x2="2112.2" y2="2345.8"/>
<line x1="534.8" y1="2498.0" x2="2112.2" y2="2498.0"/>
<line x1="534.8" y1="2650.3" x2="2112.2" y2="2650.3"/>
<line x1="534.8" y1="2802.5" x2="2112.2" y2="2802.5"/>
</g>
<g stroke="#7c7c7c" stroke-width="1.4">
<line x1="534.8" y1="2345.8" x2="30.9" y2="3027.8"/>
<line x1="534.8" y1="2498.0" x2="30.9" y2="3180.0"/>
<line x1="534.8" y1="2650.3" x2="30.9" y2="3332.3"/>
<line x1="534.8" y1="2802.5" x2="30.9" y2="3484.5"/>
</g>
<g stroke="#909090" stroke-width="1.4">
<line x1="451.9" y1="2305.7" x2="451.9" y2="3067.0"/>
<line x1="283.9" y1="2533.1" x2="283.9" y2="3294.4"/>
<line x1="114.9" y1="2761.8" x2="114.9" y2="3523.1"/>
</g>
<g stroke="#111" stroke-width="1.5">
<line x1="534.8" y1="2193.5" x2="534.8" y2="2954.8"/>
<line x1="534.8" y1="2954.8" x2="2112.2" y2="2954.8"/>
<line x1="534.8" y1="2954.8" x2="30.9" y2="3636.8"/>
</g>
<polyline points="451.9,3067.0 601.6,3067.0 608.1,2651.0 614.6,3067.0 759.3,3067.0 765.8,2391.0 772.3,3067.0 917.1,3067.0 923.6,2992.0 930.1,3067.0 950.1,3067.0 955.1,3062.5 960.1,3067.0 983.2,3067.0 988.2,3063.5 993.2,3067.0 1074.8,3067.0 1081.3,2551.0 1087.8,3067.0 1232.5,3067.0 1239.0,3005.6 1245.5,3067.0 1390.3,3067.0 1396.8,2931.2 1403.3,3067.0 1456.4,3067.0 1461.4,3062.5 1466.4,3067.0 1548.0,3067.0 1554.5,3026.0 1561.0,3067.0 1705.8,3067.0 1712.3,2957.0 1718.8,3067.0 1863.5,3067.0 1870.0,3039.5 1876.5,3067.0 2022.8,3067.0 2028.8,3009.4" stroke="#1A6FDF" stroke-width="4.3" stroke-linejoin="round"/>
<polyline points="283.9,3294.4 286.9,3291.4 291.9,3293.9 434.5,3294.4 441.0,2971.0 447.5,3294.4 592.2,3294.4 598.7,2835.1 605.2,3294.4 749.9,3294.4 756.4,3233.4 762.9,3294.4 783.6,3294.4 788.6,3291.4 793.6,3294.4 907.7,3294.4 914.2,2892.4 920.7,3294.4 1065.4,3294.4 1071.9,3247.4 1078.4,3294.4 1223.2,3294.4 1229.7,3185.4 1236.2,3294.4 1288.4,3294.4 1293.4,3291.4 1298.4,3294.4 1380.9,3294.4 1387.4,3263.4 1393.9,3294.4 1538.6,3294.4 1545.1,3214.4 1551.6,3294.4 1696.4,3294.4 1702.9,3275.4 1709.4,3294.4 1854.8,3294.4 1860.8,3252.9" stroke="#F14040" stroke-width="4.3" stroke-linejoin="round"/>
<polyline points="114.9,3523.1 120.8,3340.1 127.3,3453.1 133.8,3499.1 140.8,3515.1 148.9,3508.1 154.3,3509.6 159.7,3518.6 166.1,3476.1 172.1,3516.6 179.1,3459.5 185.5,3509.6 192.0,3506.1 197.4,3522.1 214.9,3521.1 254.9,3521.1 261.5,3516.6 266.9,3521.1 256.0,3520.4 260.0,3516.6 265.5,3520.4 272.0,3181.1 279.0,3517.7 285.5,3522.1 423.2,3522.6 429.7,3086.5 436.7,3515.1 444.7,3518.8 452.7,3522.1 460.7,3520.4 468.7,3522.1 480.7,3518.8 487.7,3522.1 581.6,3522.6 588.1,3485.4 594.6,3522.6 738.7,3522.6 745.2,3215.1 751.7,3517.7 759.7,3522.1 897.1,3522.6 903.6,3489.1 910.1,3522.6 1054.8,3522.6 1061.3,3445.1 1067.8,3522.6 1212.6,3522.6 1219.1,3504.1 1225.6,3522.6 1370.3,3522.6 1376.8,3480.1 1383.3,3522.6 1528.1,3522.6 1534.6,3509.6 1541.1,3522.6 1685.8,3523.1 1691.8,3499.1" stroke="#515151" stroke-width="4.3" stroke-linejoin="round"/>
<g stroke="#000" stroke-width="4.5" stroke-linecap="butt" stroke-linejoin="miter">
<polyline points="30.9,3638.8 30.9,2875.5 534.8,2193.5 2128.2,2193.5"/>
<polyline points="28.9,3636.8 1608.3,3636.8 2112.2,2954.8"/>
<line x1="2113.2" y1="2191.5" x2="2113.2" y2="2956.8"/>
<line x1="2113.2" y1="2193.5" x2="2129.2" y2="2193.5"/>
<line x1="2113.2" y1="2269.6" x2="2121.2" y2="2269.6"/>
<line x1="2113.2" y1="2345.8" x2="2129.2" y2="2345.8"/>
<line x1="2113.2" y1="2421.9" x2="2121.2" y2="2421.9"/>
<line x1="2113.2" y1="2498.0" x2="2129.2" y2="2498.0"/>
<line x1="2113.2" y1="2574.2" x2="2121.2" y2="2574.2"/>
<line x1="2113.2" y1="2650.3" x2="2129.2" y2="2650.3"/>
<line x1="2113.2" y1="2726.4" x2="2121.2" y2="2726.4"/>
<line x1="2113.2" y1="2802.5" x2="2129.2" y2="2802.5"/>
<line x1="2113.2" y1="2878.7" x2="2121.2" y2="2878.7"/>
<line x1="2113.2" y1="2954.8" x2="2129.2" y2="2954.8"/>
<line x1="30.9" y1="3636.8" x2="30.9" y2="3655.8"/>
<line x1="188.6" y1="3636.8" x2="188.6" y2="3647.3"/>
<line x1="346.4" y1="3636.8" x2="346.4" y2="3655.8"/>
<line x1="504.1" y1="3636.8" x2="504.1" y2="3647.3"/>
<line x1="661.9" y1="3636.8" x2="661.9" y2="3655.8"/>
<line x1="819.6" y1="3636.8" x2="819.6" y2="3647.3"/>
<line x1="977.3" y1="3636.8" x2="977.3" y2="3655.8"/>
<line x1="1135.1" y1="3636.8" x2="1135.1" y2="3647.3"/>
<line x1="1292.8" y1="3636.8" x2="1292.8" y2="3655.8"/>
<line x1="1450.6" y1="3636.8" x2="1450.6" y2="3647.3"/>
<line x1="1608.3" y1="3636.8" x2="1608.3" y2="3655.8"/>
<line x1="2029.3" y1="3067.0" x2="2046.3" y2="3067.0" stroke-width="3.6"/>
<line x1="1861.3" y1="3294.4" x2="1878.3" y2="3294.4" stroke-width="3.6"/>
<line x1="1692.3" y1="3523.1" x2="1709.3" y2="3523.1" stroke-width="3.6"/>
</g>
</g>
<g font-family='"Liberation Serif", serif' font-size="52" fill="#000">
<text transform="translate(2141.5,2209.0) scale(1.05,1)">0.0120</text>
<text transform="translate(2141.5,2361.3) scale(1.05,1)">0.0096</text>
<text transform="translate(2141.5,2513.5) scale(1.05,1)">0.0072</text>
<text transform="translate(2141.5,2665.8) scale(1.05,1)">0.0048</text>
<text transform="translate(2141.5,2818.0) scale(1.05,1)">0.0024</text>
<text transform="translate(2141.5,2970.3) scale(1.05,1)">0.0000</text>
<text x="31.4" y="3708.5" text-anchor="middle">0</text>
<text x="348.9" y="3708.5" text-anchor="middle">10</text>
<text x="664.4" y="3708.5" text-anchor="middle">20</text>
<text x="979.8" y="3708.5" text-anchor="middle">30</text>
<text x="1295.3" y="3708.5" text-anchor="middle">40</text>
<text x="1610.8" y="3708.5" text-anchor="middle">50</text>
</g>
<text transform="translate(2358.4,2612.2) rotate(-90)" font-family='"Liberation Serif", serif' font-style="italic" font-size="63">C<tspan font-size="60" dx="-2.6" dy="10.4">p</tspan></text>
<text x="770" y="3764" font-family='"Liberation Serif", serif' font-style="italic" font-size="60">f, f<tspan font-size="56" dx="2" dy="12.4">n</tspan></text>
<text transform="translate(2068.3,3085.5) scale(0.72,1)" font-family='"Liberation Serif", serif' font-size="45" fill="#000">24.8°</text>
<text transform="translate(1900.3,3312.9) scale(0.72,1)" font-family='"Liberation Serif", serif' font-size="45" fill="#000">17.5°</text>
<text transform="translate(1731.3,3541.6) scale(0.72,1)" font-family='"Liberation Serif", serif' font-size="45" fill="#000">9.8°</text>
</svg>
</body></html>
